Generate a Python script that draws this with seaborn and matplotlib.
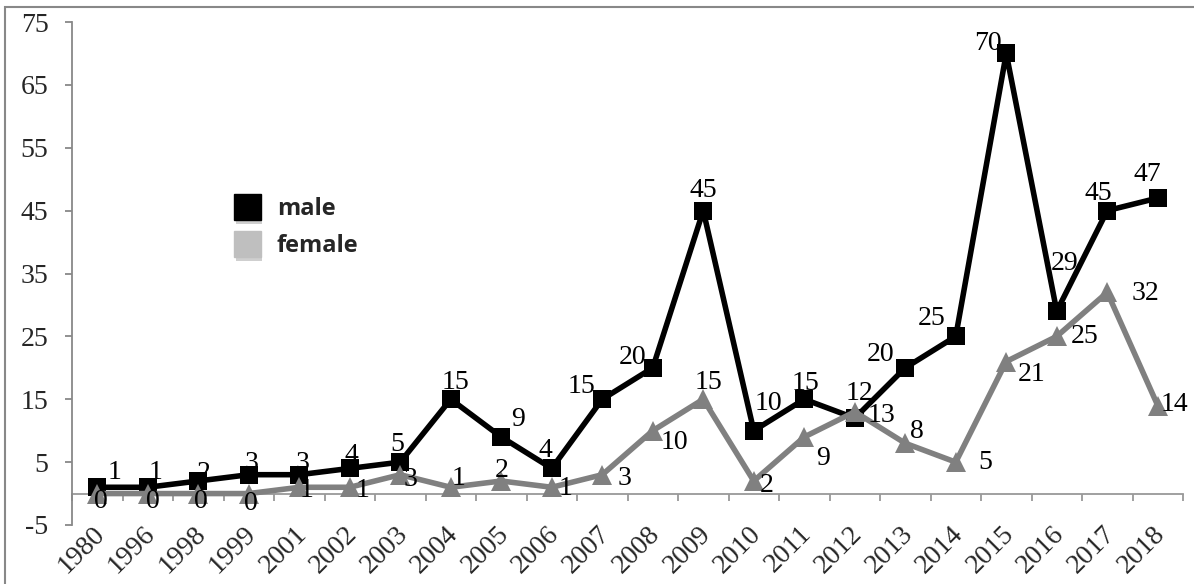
'''Male / female counts per year, line chart with data labels'''

import matplotlib.pyplot as plt
import matplotlib.patheffects as pe
import matplotlib.transforms as mtransforms
from matplotlib.lines import Line2D
from matplotlib.patches import Rectangle
import pandas as pd
import seaborn as sns

# data
years = ['1980', '1996', '1998', '1999', '2001', '2002', '2003', '2004', '2005', '2006', '2007',
         '2008', '2009', '2010', '2011', '2012', '2013', '2014', '2015', '2016', '2017', '2018']
male = [1, 1, 2, 3, 3, 4, 5, 15, 9, 4, 15, 20, 45, 10, 15, 12, 20, 25, 70, 29, 45, 47]
female = [0, 0, 0, 0, 1, 1, 3, 1, 2, 1, 3, 10, 15, 2, 9, 13, 8, 5, 21, 25, 32, 14]
y_ticks = [-5, 5, 15, 25, 35, 45, 55, 65, 75]

# label placement (pixel offsets from the point, y up)
male_offsets = [(17, 15), (8, 15), (5, 7), (3, 11), (3, 11), (2, 13), (-3, 18), (5, 17), (17, 17),
                (-6, 18), (-21, 13), (-20, 10), (0, 20), (15, 27), (1, 16), (5, 25), (-25, 13),
                (-24, 18), (-18, 10), (8, 48), (-9, 17), (-10, 24)]
female_offsets = [(4, -8), (5, -8), (3, -8), (2, -10), (7, -3), (13, -3), (10, -5), (8, 9), (0, 10),
                  (14, -1), (22, -4), (22, -12), (5, 17), (13, -5), (19, -22), (27, -4), (12, 12),
                  (30, 0), (25, -13), (28, 0), (38, -1), (17, 1)]

df = pd.DataFrame({'year': years, 'male': male, 'female': female})

sns.set_style('white')
plt.rcParams['font.family'] = ['Liberation Serif', 'DejaVu Serif']
plt.rcParams['axes.unicode_minus'] = False

FS = 20

fig = plt.figure(figsize=(11.94, 5.84), dpi=100)
ax = fig.add_axes([72 / 1194, 1 - 525 / 584, (1183 - 72) / 1194, (525 - 22) / 584])

# male line first, female on top
sns.lineplot(data=df, x='year', y='male', ax=ax, color='black', linewidth=4,
             marker='s', markersize=13, markeredgewidth=0, sort=False)
sns.lineplot(data=df, x='year', y='female', ax=ax, color='#808080', linewidth=4,
             marker='^', markersize=15, markeredgewidth=0, sort=False)

# data labels
for i, (v, off) in enumerate(zip(male, male_offsets)):
    ax.annotate(str(v), (i, v), xytext=off, textcoords='offset pixels',
                ha='center', va='center', fontsize=FS, color='black')
for i, (v, off) in enumerate(zip(female, female_offsets)):
    ax.annotate(str(v), (i, v), xytext=off, textcoords='offset pixels',
                ha='center', va='center', fontsize=FS, color='black')

# axes
n = len(years)
ax.set_xlim(-0.5, n - 0.5)
ax.set_ylim(-5, 75)
ax.set_yticks(y_ticks)
ax.set_xlabel('')
ax.set_ylabel('')
ax.set_xticks(range(n))
ax.set_xticklabels(years)
ax.set_xticks([i - 0.5 for i in range(n + 1)], minor=True)

for s in ['top', 'right']:
    ax.spines[s].set_visible(False)
ax.spines['left'].set_color('#888888')
ax.spines['left'].set_linewidth(1.3)
ax.spines['bottom'].set_position(('data', 0))
ax.spines['bottom'].set_color('#999999')
ax.spines['bottom'].set_linewidth(1.3)
ax.spines['bottom'].set_zorder(0.5)

ax.tick_params(axis='y', direction='out', length=5, width=1.3, color='#888888',
               labelsize=FS, pad=12, left=True)
ax.tick_params(axis='x', which='major', length=0, labelsize=FS, pad=20)
ax.tick_params(axis='x', which='minor', direction='out', length=5, width=1.3,
               color='#999999', bottom=True)
shift = mtransforms.ScaledTranslation(-0.05, 0, fig.dpi_scale_trans)
for lab in ax.get_xticklabels():
    lab.set_rotation(45)
    lab.set_ha('right')
    lab.set_rotation_mode('anchor')
    lab.set_transform(lab.get_transform() + shift)

# legend with shadowed square markers
shadow = [pe.SimplePatchShadow(offset=(1, -3), alpha=0.35, shadow_rgbFace='#777777'), pe.Normal()]
handles = [Line2D([], [], linestyle='none', marker='s', markersize=19, color='black',
                  path_effects=shadow),
           Line2D([], [], linestyle='none', marker='s', markersize=19, color='#bfbfbf',
                  path_effects=shadow)]
leg = ax.legend(handles, ['male', 'female'], loc='upper left', frameon=False,
                bbox_to_anchor=(212 / 1194, 1 - 176 / 584), bbox_transform=fig.transFigure,
                prop={'family': 'Open Sans', 'weight': 'bold', 'size': 17},
                handletextpad=0.65, labelspacing=0.55, handlelength=1.2)

# outer border of the chart area
fig.patches.append(Rectangle((5 / 1194, -0.01), 1.02, 1 - 7 / 584 + 0.01, transform=fig.transFigure,
                             fill=False, edgecolor='#888888', linewidth=1.5))

fig.savefig('out.png', dpi=100)
